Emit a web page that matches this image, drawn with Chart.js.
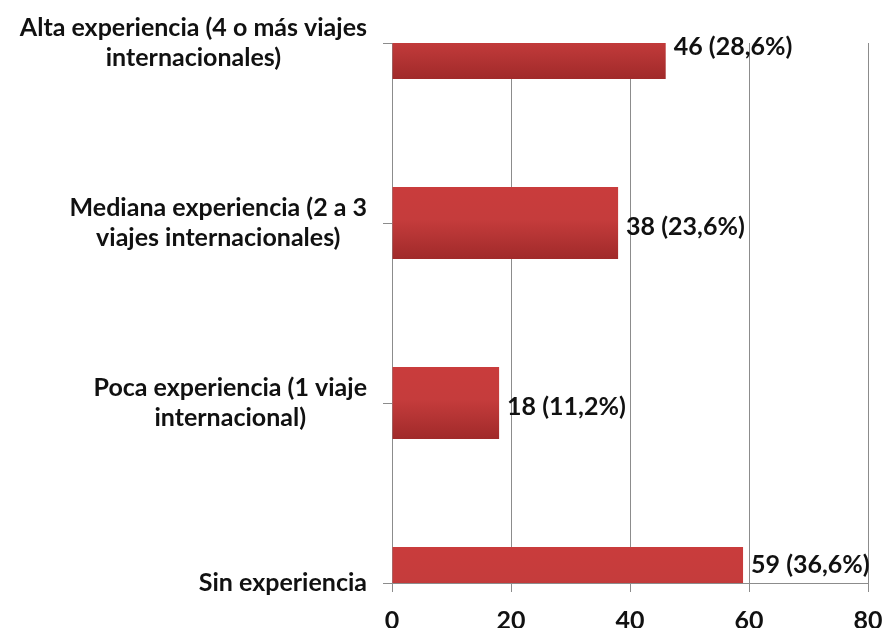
<!DOCTYPE html>
<html>
<head>
<meta charset="utf-8">
<script src="https://cdn.jsdelivr.net/npm/chart.js@4/dist/chart.umd.min.js"></script>
<style>
  html, body { margin: 0; padding: 0; background: #ffffff; }
  #wrap { width: 886px; height: 628px; position: relative; }
</style>
</head>
<body>
<div id="wrap"><canvas id="c" width="886" height="628"></canvas></div>
<script>
// ---- data ----
const categories = [
  ["Alta experiencia (4 o más viajes", "internacionales)"],
  ["Mediana experiencia (2 a 3", "viajes internacionales)"],
  ["Poca experiencia (1 viaje", "internacional)"],
  ["Sin experiencia"]
];
const counts = [46, 38, 18, 59];
const percents = ["28,6%", "23,6%", "11,2%", "36,6%"];
const xTickMin = 0;
const xTickMax = 80;
const xTickStep = 20;

const FONT_FAMILY = "Lato, 'Open Sans', sans-serif";
const FONT_SIZE = 25;
const TEXT_COLOR = "#111111";
const GRID_COLOR = "#8c8c8c";

function barGradient(context) {
  const chart = context.chart;
  const ys = chart.scales.y;
  if (!chart.chartArea || !ys) return "#c03838";
  const yc = ys.getPixelForValue(context.dataIndex);
  const half = (ys.getPixelForTick(1) - ys.getPixelForTick(0)) * 0.2;
  const g = chart.ctx.createLinearGradient(0, yc - half, 0, yc + half);
  g.addColorStop(0, "#c93c3c");
  g.addColorStop(0.45, "#c53c3c");
  g.addColorStop(1, "#a02a2a");
  return g;
}

const labelPlugin = {
  id: "labels",
  afterDraw(chart) {
    const ctx = chart.ctx;
    const ys = chart.scales.y;
    const xs = chart.scales.x;
    const area = chart.chartArea;
    ctx.save();
    ctx.font = "bold " + FONT_SIZE + "px " + FONT_FAMILY;
    ctx.fillStyle = TEXT_COLOR;
    ctx.textBaseline = "middle";
    // category labels: block right-aligned, lines centered within block
    const lineH = 30;
    categories.forEach((lines, i) => {
      const y = ys.getPixelForTick(i);
      let maxW = 0;
      lines.forEach(l => { maxW = Math.max(maxW, ctx.measureText(l).width); });
      const right = ys.right - 25;
      const cx = right - maxW / 2;
      const y0 = y - (lines.length - 1) * lineH / 2;
      ctx.textAlign = "center";
      lines.forEach((l, k) => ctx.fillText(l, cx, y0 + k * lineH));
    });
    // value labels
    ctx.textAlign = "left";
    counts.forEach((v, i) => {
      const x = xs.getPixelForValue(v) + 8;
      const y = Math.min(ys.getPixelForTick(i) + 4, area.bottom - 18);
      ctx.fillText(v + " (" + percents[i] + ")", x, y);
    });
    ctx.restore();
  }
};

new Chart(document.getElementById("c"), {
  type: "bar",
  data: {
    labels: categories.map(c => c.join(" ")),
    datasets: [{
      data: counts,
      backgroundColor: barGradient,
      borderWidth: 0,
      barPercentage: 0.5,
      categoryPercentage: 0.8
    }]
  },
  options: {
    indexAxis: "y",
    responsive: false,
    animation: false,
    layout: { padding: { top: 43, right: 18, bottom: 0, left: 0 } },
    plugins: {
      legend: { display: false },
      tooltip: { enabled: false }
    },
    scales: {
      x: {
        type: "linear",
        min: xTickMin,
        max: xTickMax,
        ticks: {
          stepSize: xTickStep,
          color: TEXT_COLOR,
          font: { family: FONT_FAMILY, size: FONT_SIZE, weight: "bold" },
          padding: 14,
          maxRotation: 0
        },
        grid: { color: GRID_COLOR, lineWidth: 1, tickLength: 9, drawTicks: true },
        border: { display: true, color: GRID_COLOR, width: 1 },
        afterFit(scale) { scale.height = 45; scale.paddingRight = 0; scale.paddingLeft = 0; }
      },
      y: {
        type: "category",
        offset: false,
        ticks: { display: false },
        grid: { offset: false, drawOnChartArea: false, drawTicks: true, tickLength: 9, color: GRID_COLOR },
        border: { display: true, color: GRID_COLOR, width: 1 },
        afterFit(scale) { scale.width = 392; scale.paddingTop = 0; scale.paddingBottom = 0; }
      }
    }
  },
  plugins: [labelPlugin]
});
</script>
</body>
</html>
